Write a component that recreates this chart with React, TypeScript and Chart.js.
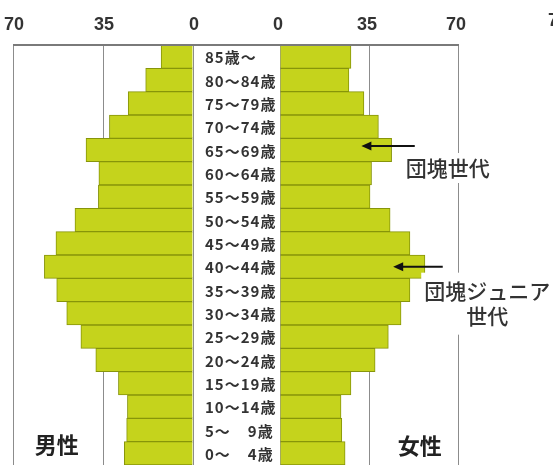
import { useEffect, useRef } from "react";
import { Chart, registerables } from "chart.js";

Chart.register(...registerables);

// Age groups, oldest at the top
const ageGroups = [
  "85歳～", "80～84歳", "75～79歳", "70～74歳", "65～69歳", "60～64歳",
  "55～59歳", "50～54歳", "45～49歳", "40～44歳", "35～39歳", "30～34歳",
  "25～29歳", "20～24歳", "15～19歳", "10～14歳", "5～\u2002\u20029歳", "0～\u2002\u20024歳",
];
const male = [12.4, 18.4, 25.2, 32.5, 41.6, 36.6, 36.8, 45.9, 53.3, 57.8, 53.0, 49.1, 43.6, 37.8, 29.0, 25.5, 25.8, 26.7];
const female = [27.9, 27.1, 33.0, 38.7, 43.9, 36.0, 35.4, 43.3, 51.1, 57.0, 51.1, 47.6, 42.6, 37.4, 27.9, 24.0, 24.3, 25.6];
const axisMax = 70;
const axisStep = 35;
const maleTitle = "男性";
const femaleTitle = "女性";
const boomNote = { row: "65～69歳", lines: ["団塊世代"] };
const juniorNote = { row: "40～44歳", lines: ["団塊ジュニア", "世代"] };
const strayTick = "70";

const BAR_FILL = "#c5d31c";
const BAR_EDGE = "#87950a";
const GRID = "#8c8c8c";
const FRAME = "#7a7a7a";
const INK = "#333333";
const JP = '"Noto Sans CJK JP", "Noto Sans", sans-serif';
const NUM = '"Liberation Sans", Arial, sans-serif';

const overlay = {
  id: "pyramidOverlay",
  afterDraw(chart: any) {
    const { ctx, chartArea } = chart;
    const y = chart.scales.y;
    const xL = chart.scales.xL;
    const xM = chart.scales.xM;
    const xR = chart.scales.xR;
    ctx.save();
    ctx.globalAlpha = 1;
    ctx.globalCompositeOperation = "source-over";

    // frame line along the top edge of the first age band, across all three columns
    const band = y.getPixelForValue(1) - y.getPixelForValue(0);
    const frameTop = Math.round(y.getPixelForValue(0) - band / 2);
    const frameLeft = Math.round(xL.getPixelForValue(axisMax));
    const frameRight = Math.round(xR.getPixelForValue(axisMax)) + 1;
    ctx.fillStyle = FRAME;
    ctx.fillRect(frameLeft, frameTop - 1, frameRight - frameLeft, 2);

    // age labels in the centre column
    ctx.fillStyle = INK;
    ctx.font = `bold 15px ${JP}`;
    (ctx as any).letterSpacing = "1px";
    ctx.textAlign = "left";
    ctx.textBaseline = "middle";
    ageGroups.forEach((label, i) => {
      ctx.fillText(label, xM.left + 12, y.getPixelForValue(i) + 1);
    });
    (ctx as any).letterSpacing = "0px";

    // side titles
    ctx.font = `bold 22px ${JP}`;
    ctx.textAlign = "center";
    ctx.fillStyle = "#222";
    ctx.fillText(maleTitle, xL.getPixelForValue(53), chartArea.bottom - 20);
    ctx.fillText(femaleTitle, xR.getPixelForValue(55), chartArea.bottom - 19);

    const arrow = (rowY: number, from: number, to: number) => {
      const x0 = xR.getPixelForValue(from);
      const x1 = xR.getPixelForValue(to);
      ctx.strokeStyle = "#111";
      ctx.fillStyle = "#111";
      ctx.lineWidth = 2;
      ctx.beginPath();
      ctx.moveTo(x0, rowY);
      ctx.lineTo(x1 + 8, rowY);
      ctx.stroke();
      ctx.beginPath();
      ctx.moveTo(x1, rowY);
      ctx.lineTo(x1 + 10, rowY - 4.5);
      ctx.lineTo(x1 + 10, rowY + 4.5);
      ctx.closePath();
      ctx.fill();
    };

    const note = (lines: string[], cx: number, top: number, w: number, h: number, lineGap: number) => {
      ctx.fillStyle = "#ffffff";
      ctx.fillRect(cx - w / 2, top, w, h);
      ctx.fillStyle = INK;
      ctx.font = `500 21px ${JP}`;
      ctx.textAlign = "center";
      ctx.textBaseline = "middle";
      const first = top + h / 2 - ((lines.length - 1) * lineGap) / 2;
      lines.forEach((t, i) => ctx.fillText(t, cx, first + i * lineGap));
    };

    const boomY = y.getPixelForValue(ageGroups.indexOf(boomNote.row));
    arrow(boomY - 4, 53, 32);
    note(boomNote.lines, xR.getPixelForValue(66), boomY + 3, 100, 30, 0);

    const juniorY = y.getPixelForValue(ageGroups.indexOf(juniorNote.row));
    arrow(juniorY, 64, 44.5);
    note(juniorNote.lines, xR.getPixelForValue(81.5), juniorY + 6, 132, 62, 25);

    // neighbouring axis label at the right edge
    ctx.fillStyle = INK;
    ctx.font = `bold 18px ${NUM}`;
    ctx.textAlign = "left";
    ctx.textBaseline = "middle";
    ctx.fillText(strayTick, chart.width - 5, 21);

    ctx.restore();
  },
};

const sideScale = (reverse: boolean, weight: number, stackWeight: number, labelOffset: number) => ({
  type: "linear",
  position: "top",
  stack: "top",
  stackWeight,
  weight,
  reverse,
  min: 0,
  max: axisMax,
  ticks: {
    stepSize: axisStep,
    padding: 2,
    labelOffset,
    color: INK,
    font: { family: NUM, size: 18, weight: "bold", lineHeight: 2 },
    maxRotation: 0,
    autoSkip: false,
  },
  grid: { color: GRID, lineWidth: 1, drawTicks: false },
  border: { display: false },
});

export default function App() {
  const ref = useRef<HTMLCanvasElement>(null);

  useEffect(() => {
    if (!ref.current) return;
    const chart = new Chart(ref.current, {
      type: "bar",
      data: {
        labels: ageGroups,
        datasets: [
          {
            label: maleTitle,
            data: male,
            xAxisID: "xL",
            yAxisID: "y",
            backgroundColor: BAR_FILL,
            borderColor: BAR_EDGE,
            borderWidth: 1,
            grouped: false,
            barPercentage: 1,
            categoryPercentage: 1,
          },
          {
            label: femaleTitle,
            data: female,
            xAxisID: "xR",
            yAxisID: "y",
            backgroundColor: BAR_FILL,
            borderColor: BAR_EDGE,
            borderWidth: 1,
            grouped: false,
            barPercentage: 1,
            categoryPercentage: 1,
          },
        ],
      },
      options: {
        indexAxis: "y",
        animation: false,
        responsive: false,
        devicePixelRatio: 1,
        layout: { padding: { left: 13, right: 95, top: 5, bottom: 0 } },
        plugins: { legend: { display: false }, tooltip: { enabled: false } },
        scales: {
          y: { type: "category", display: false, offset: true, ticks: { display: false } },
          // top axes are placed in reverse weight order, so the male side gets the highest weight
          xL: sideScale(true, 3, 180, 1) as any,
          xM: {
            type: "linear",
            position: "top",
            stack: "top",
            stackWeight: 87,
            weight: 2,
            min: 0,
            max: 1,
            ticks: { display: false },
            grid: { display: false, drawTicks: false },
            border: { display: false },
          } as any,
          xR: sideScale(false, 1, 178, -2) as any,
        },
      },
      plugins: [overlay],
    });
    return () => chart.destroy();
  }, []);

  return (
    <div style={{ position: "absolute", left: 0, top: 0, width: 553, height: 465, overflow: "hidden", background: "#fff" }}>
      <canvas ref={ref} width={553} height={465} style={{ display: "block" }} />
    </div>
  );
}
